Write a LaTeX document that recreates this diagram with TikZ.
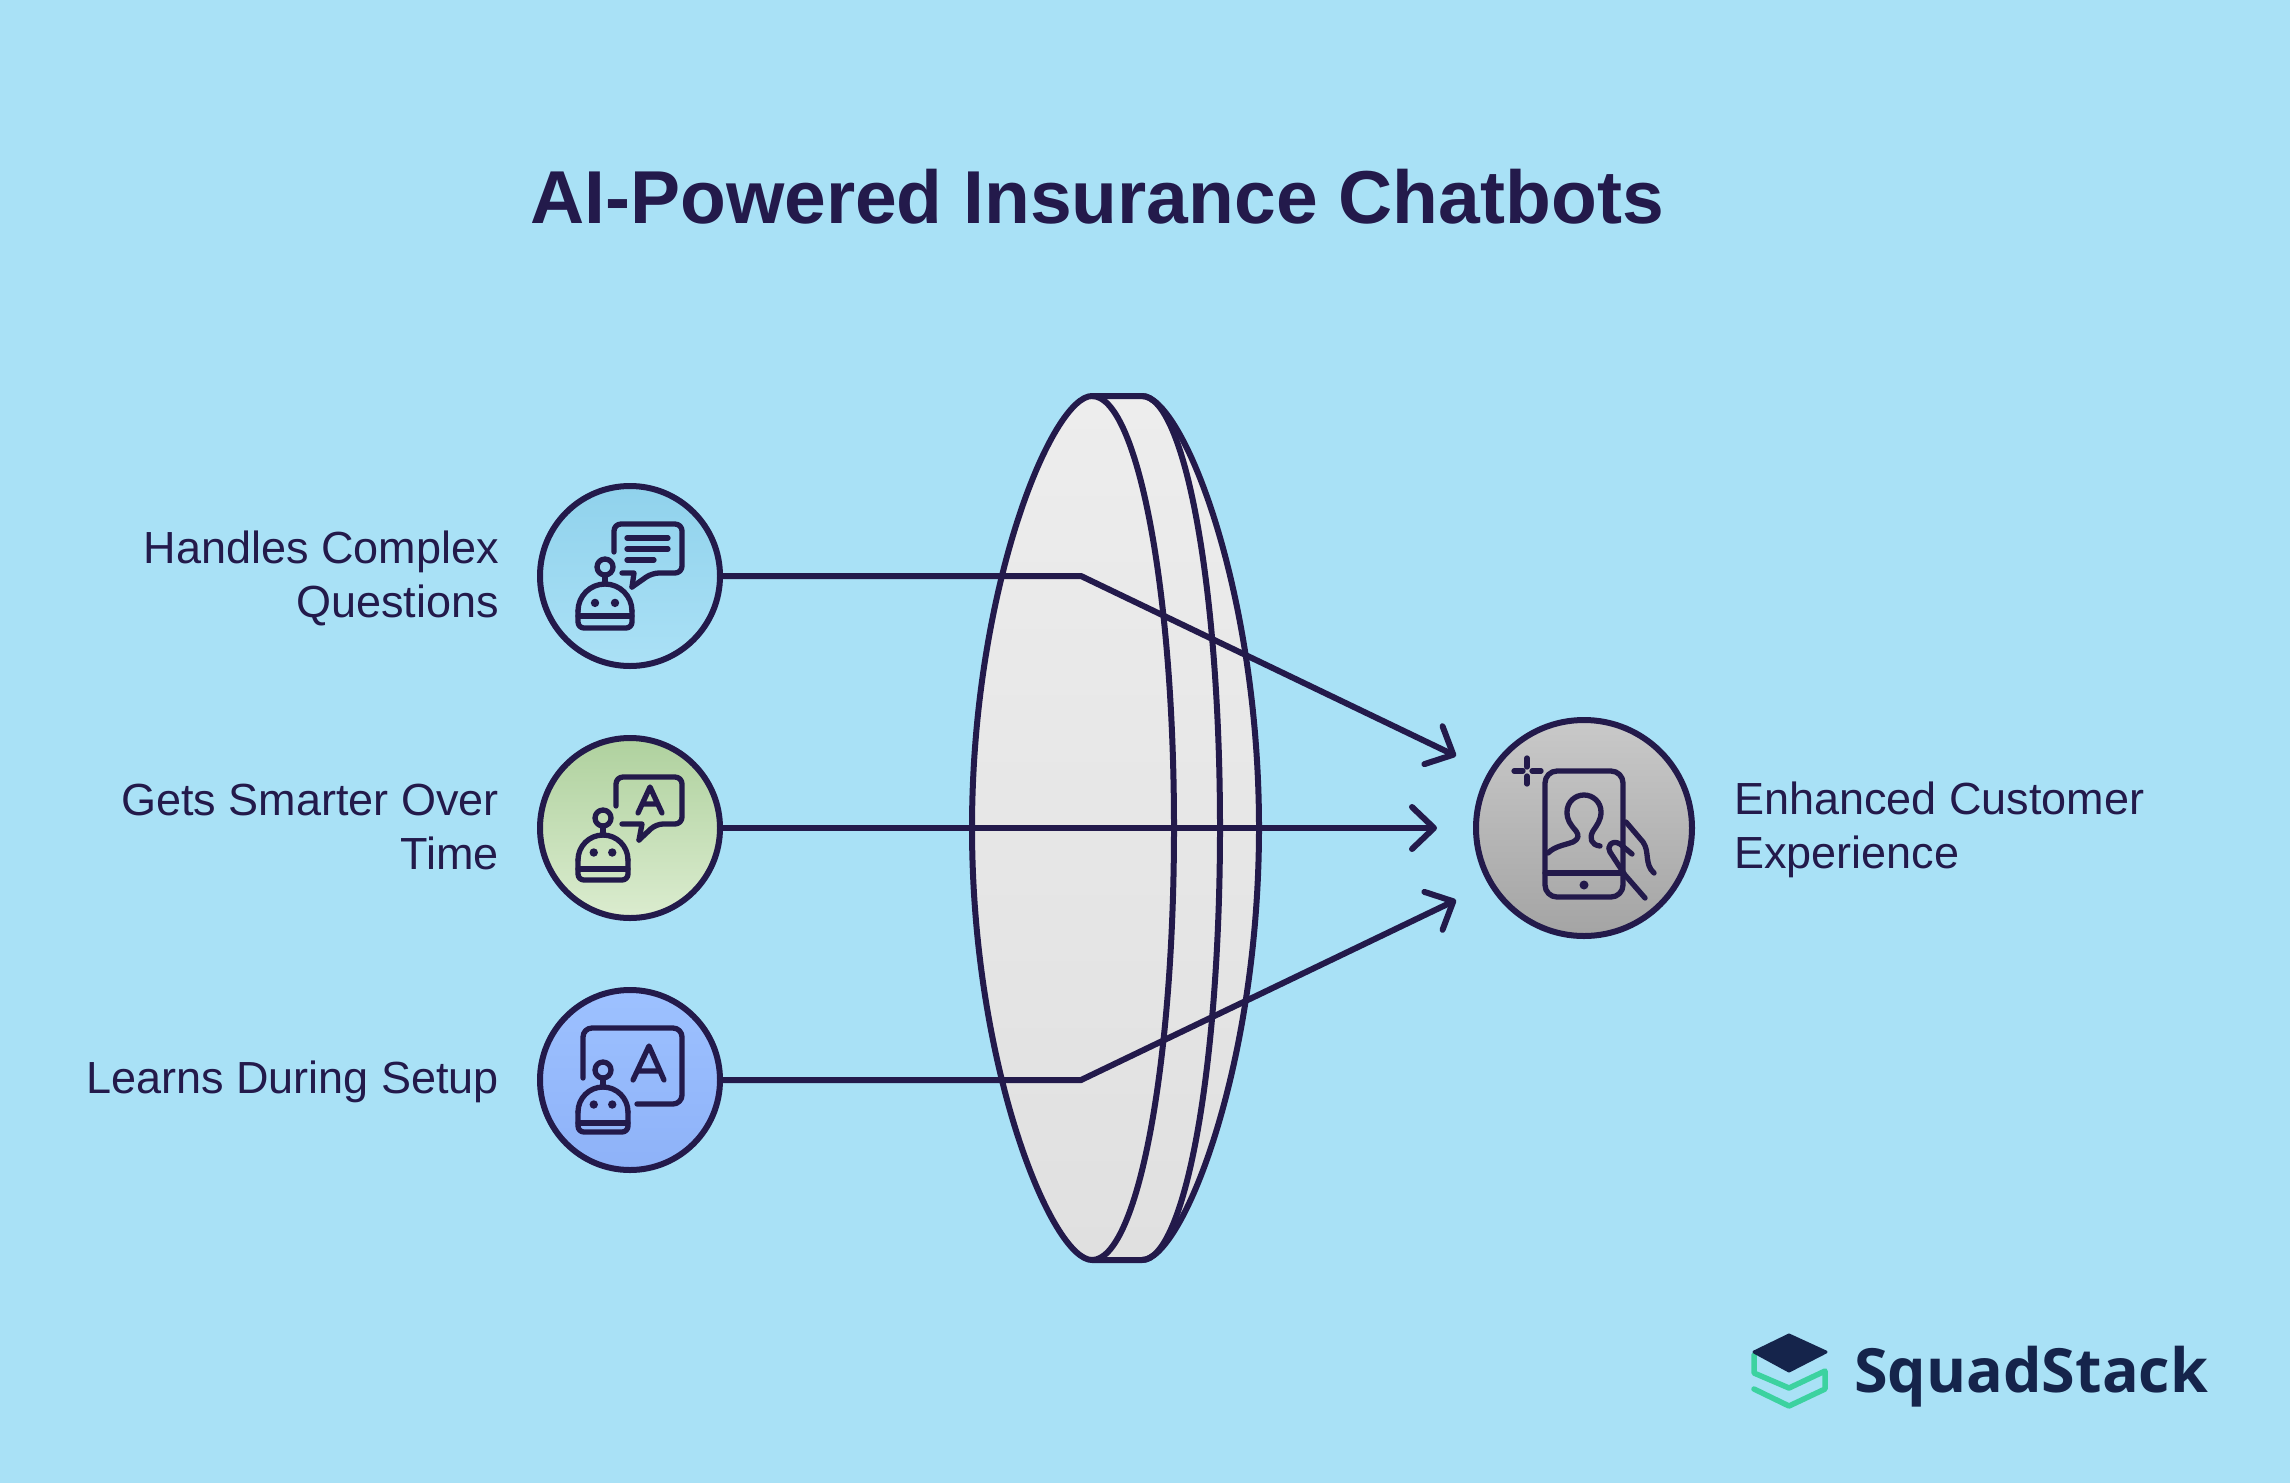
\documentclass[tikz,border=0pt]{standalone}
\usepackage{fontspec}
\usepackage{tikz}
\usetikzlibrary{arrows.meta,positioning}
\setmainfont{Liberation Sans}
\newfontfamily\logofont{Open Sans}
\definecolor{skyback}{HTML}{A9E1F6}
\definecolor{inkline}{HTML}{231A4B}
\definecolor{logonavy}{HTML}{15244B}
\definecolor{logogreen}{HTML}{3CD2A0}
\definecolor{sky1}{HTML}{90D2EC}
\definecolor{sky2}{HTML}{ABE1F6}
\definecolor{leaf1}{HTML}{AFD19E}
\definecolor{leaf2}{HTML}{DBECCF}
\definecolor{blue1}{HTML}{9DC1FF}
\definecolor{blue2}{HTML}{8EB2F8}
\definecolor{grey1}{HTML}{C9C9C9}
\definecolor{grey2}{HTML}{A4A4A4}
\definecolor{lens1}{HTML}{EDEDED}
\definecolor{lens2}{HTML}{E0E0E0}
\newcommand{\roboticon}[5]{
  \begin{scope}[shift={(#1,#2)}]
    \draw[icon,rounded corners=6pt] (-#3,0) -- (-#3,#5) -- (#3,#5) -- (#3,0);
    \draw[icon] (-#3,0) arc[start angle=180,end angle=360,radius=#3];
    \draw[icon] (-#3,#4) -- (#3,#4);
    \draw[icon] (0,-#3) -- (0,-#3-9);
    \draw[icon] (0,-#3-17) circle[radius=8];
    \fill[inkline] (-#3*0.37,-#3*0.3) circle[radius=4.2] (#3*0.37,-#3*0.3) circle[radius=4.2];
  \end{scope}
}
\newcommand{\lensoutline}{(1092,396) .. controls (1052,396) and (972,589) .. (972,828) .. controls (972,1067) and (1052,1260) .. (1092,1260)
		-- (1142,1260) .. controls (1182,1260) and (1259,1067) .. (1259,828) .. controls (1259,589) and (1182,396) .. (1142,396) -- cycle}
\begin{document}
\begin{tikzpicture}[x=1pt,y=-1pt,
  flow/.style={draw=inkline,line width=6pt,line join=miter,
    -{Straight Barb[length=22pt,width=42pt,line width=6pt,round]}},
  hub/.style={circle,draw=inkline,line width=6pt,inner sep=0pt,minimum size=180pt},
  icon/.style={draw=inkline,line width=5.3pt,line cap=round,line join=round},
  label/.style={text=inkline,font=\fontsize{45}{54}\selectfont,inner sep=0pt}]
	\fill[skyback] (0,0) rectangle (2290,1483);
	\useasboundingbox (0,0) rectangle (2290,1483);
	\node[text=inkline,font=\bfseries\fontsize{75}{90}\selectfont] (title) at (1097,197) {AI-Powered Insurance Chatbots};
	% lens
	\path[top color=lens1,bottom color=lens2] \lensoutline;
	\draw[icon,line width=6pt] \lensoutline;
	\draw[icon,line width=6pt] (1092,396) arc[start angle=-90,end angle=90,x radius=82,y radius=432];
	\draw[icon,line width=6pt] (1142,396) arc[start angle=-90,end angle=90,x radius=78,y radius=432];
	% hubs
	\node[hub,top color=sky1,bottom color=sky2] (handles) at (630,576) {};
	\node[hub,top color=leaf1,bottom color=leaf2] (smarter) at (630,828) {};
	\node[hub,top color=blue1,bottom color=blue2] (setup) at (630,1080) {};
	\node[hub,minimum size=216pt,top color=grey1,bottom color=grey2] (customer) at (1584,828) {};
	% labels
	\node[label,align=right,anchor=east] (handlesText) at (499,578) {Handles Complex\\Questions};
	\node[label,align=right,anchor=east] (smarterText) at (499,827) {Gets Smarter Over\\Time};
	\node[label,align=right,anchor=east] (setupText) at (499,1082) {Learns During Setup};
	\node[label,align=left,anchor=west] (customerText) at (1734,830) {Enhanced Customer\\Experience};
	% connectors
	\coordinate (bendA) at (1081,576);
	\coordinate (bendC) at (1081,1080);
	\coordinate (tipA) at (1456,756);
	\coordinate (tipB) at (1437,828);
	\coordinate (tipC) at (1456,900);
	\draw[flow] (handles) -- (bendA) -- (tipA);
	\draw[flow] (smarter) -- (tipB);
	\draw[flow] (setup) -- (bendC) -- (tipC);
	% icons
	\roboticon{605}{611}{27}{5}{17}
	\draw[icon,rounded corners=7pt] (614,552) -- (614,524) -- (682,524) -- (682,573) -- (652,573) -- (632,587);
	\draw[icon] (632,587) -- (634,573) -- (622,573);
	\draw[icon] (627,538) -- (668,538) (627,549) -- (668,549) (627,560) -- (654,560);
	\roboticon{603}{860}{25}{9}{20}
	\draw[icon,rounded corners=7pt] (616,806) -- (616,777) -- (682,777) -- (682,824) -- (656,824) -- (639,840);
	\draw[icon] (639,840) -- (642,824) -- (622,824);
	\draw[icon] (638,813) -- (650,787) -- (662,813) (642,804) -- (658,804);
	\roboticon{603}{1112}{25}{11}{20}
	\draw[icon,rounded corners=9pt] (583,1078) -- (583,1028) -- (682,1028) -- (682,1104) -- (637,1104);
	\draw[icon] (633,1080) -- (649,1046) -- (664,1080) (638,1071) -- (660,1071);
	% phone
	\draw[icon,rounded corners=12pt] (1545,771) rectangle (1623,897);
	\draw[icon] (1545,873) -- (1623,873);
	\fill[inkline] (1584,885) circle[radius=4.5];
	\draw[icon] (1548,853) .. controls (1555,846) and (1565,845) .. (1573,842) .. controls (1579,839) and (1579,835) .. (1576,831)
		.. controls (1570,824) and (1567,820) .. (1567,812) .. controls (1567,802) and (1575,795) .. (1584,795)
		.. controls (1593,795) and (1601,802) .. (1601,812) .. controls (1601,820) and (1597,825) .. (1593,831)
		.. controls (1589,838) and (1591,845) .. (1600,846);
	\draw[icon] (1626,822) -- (1643,842) .. controls (1650,852) and (1644,864) .. (1654,873);
	\draw[icon] (1632,854) -- (1620,844) .. controls (1612,839) and (1606,847) .. (1610,852) -- (1625,875) -- (1645,898);
	\draw[icon] (1514,771) -- (1523,771) (1532,771) -- (1541,771) (1527,758) -- (1527,767) (1527,776) -- (1527,784);
	% logo
	\draw[logogreen,line width=5.5pt,line join=round,line cap=round] (1754,1355) -- (1754,1373) -- (1789,1388) -- (1825,1371) -- (1825,1389) -- (1789,1406) -- (1754,1389);
	\fill[logonavy,draw=logonavy,line width=3pt,line join=round] (1754,1352) -- (1789,1335) -- (1826,1352) -- (1789,1371) -- cycle;
	\node[anchor=base west,inner sep=0pt,text=logonavy,font=\logofont\bfseries\fontsize{61}{70}\selectfont] (logo) at (1854,1392) {SquadStack};
\end{tikzpicture}
\end{document}
